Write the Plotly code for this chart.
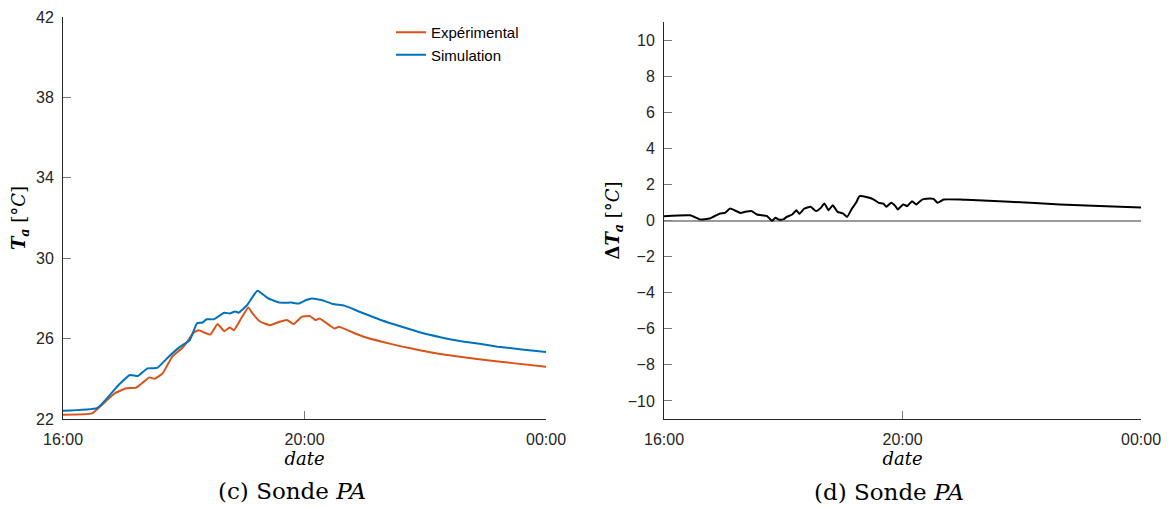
import plotly.graph_objects as go

# ---- data (hours after 16:00) ----
hours_sim = [0.00, 0.57, 0.92, 1.11, 1.24, 1.40, 1.56, 1.75, 1.94, 2.10, 2.22, 2.31, 2.38, 2.50,
             2.67, 2.76, 2.85, 2.91, 3.05, 3.22, 3.40, 3.59, 3.78, 3.91, 4.03, 4.12, 4.28, 4.47,
             4.66, 4.90, 5.30, 5.60, 5.94, 6.25, 6.57, 6.90, 7.20, 7.60, 8.00]
temp_sim = [22.41, 22.55, 23.69, 24.19, 24.14, 24.52, 24.54, 25.10, 25.60, 25.93, 26.76, 26.80, 26.96, 26.96,
            27.29, 27.25, 27.35, 27.29, 27.67, 28.38, 28.00, 27.79, 27.79, 27.75, 27.92, 28.00, 27.92, 27.72,
            27.64, 27.35, 26.89, 26.60, 26.29, 26.07, 25.88, 25.74, 25.60, 25.46, 25.33]

hours_exp = [0.00, 0.48, 0.61, 0.86, 1.05, 1.21, 1.34, 1.43, 1.52, 1.65, 1.81, 1.97, 2.06, 2.16,
             2.25, 2.35, 2.44, 2.56, 2.67, 2.76, 2.83, 2.95, 3.07, 3.14, 3.27, 3.43, 3.59, 3.71,
             3.82, 3.96, 4.09, 4.18, 4.25, 4.41, 4.50, 4.57, 4.75, 4.98, 5.30, 5.62, 5.93, 6.25,
             6.57, 6.89, 7.45, 8.00]
temp_exp = [22.21, 22.28, 22.61, 23.28, 23.53, 23.56, 23.86, 24.07, 24.00, 24.27, 25.10, 25.52, 25.85, 26.29,
            26.42, 26.29, 26.20, 26.73, 26.37, 26.55, 26.42, 27.00, 27.55, 27.25, 26.84, 26.67, 26.84, 26.92,
            26.73, 27.09, 27.12, 26.92, 27.00, 26.67, 26.50, 26.59, 26.37, 26.09, 25.83, 25.60, 25.41, 25.23,
            25.10, 24.97, 24.78, 24.60]

hours_diff = [0.00, 0.44, 0.60, 0.77, 0.94, 1.02, 1.11, 1.28, 1.36, 1.47, 1.56, 1.67, 1.73, 1.81,
              1.87, 1.92, 2.00, 2.06, 2.15, 2.22, 2.27, 2.35, 2.46, 2.55, 2.63, 2.69, 2.76, 2.83,
              2.91, 3.00, 3.07, 3.15, 3.22, 3.28, 3.41, 3.52, 3.60, 3.68, 3.73, 3.81, 3.88, 3.92,
              4.01, 4.08, 4.16, 4.23, 4.33, 4.47, 4.52, 4.59, 4.69, 4.97, 5.07, 5.80, 6.64, 7.30, 8.00]
diff_temp = [0.24, 0.29, 0.06, 0.11, 0.39, 0.42, 0.66, 0.42, 0.48, 0.52, 0.33, 0.28, 0.24, -0.02,
             0.15, 0.06, 0.06, 0.20, 0.33, 0.57, 0.37, 0.65, 0.76, 0.52, 0.70, 0.94, 0.57, 0.85,
             0.48, 0.39, 0.20, 0.65, 0.98, 1.35, 1.29, 1.16, 0.98, 0.94, 0.76, 0.98, 0.80, 0.61,
             0.89, 0.80, 1.07, 0.89, 1.16, 1.22, 1.20, 0.98, 1.16, 1.16, 1.15, 1.04, 0.89, 0.80, 0.72]

tick_hours = [0, 4, 8]
tick_labels = ["16:00", "20:00", "00:00"]
left_yticks = [22, 26, 30, 34, 38, 42]
right_yticks = [-10, -8, -6, -4, -2, 0, 2, 4, 6, 8, 10]

ORANGE = "#D95319"
BLUE = "#0072BD"
AXIS = "#262626"
TICKC = "#7a7a7a"
SANS = "Liberation Sans, Arial, sans-serif"
SERIF = "DejaVu Serif, serif"

# page offset (default body margin) and figure size
OFF = 8
W, H = 1170 - OFF, 508 - OFF


def fx(px):
    return (px - OFF) / W


def fy(py):
    return 1 - (py - OFF) / H


fig = go.Figure()
fig.add_trace(go.Scatter(x=hours_exp, y=temp_exp, mode="lines", name="Expérimental",
                         line=dict(color=ORANGE, width=2, shape="spline", smoothing=0.4),
                         xaxis="x", yaxis="y"))
fig.add_trace(go.Scatter(x=hours_sim, y=temp_sim, mode="lines", name="Simulation",
                         line=dict(color=BLUE, width=2, shape="spline", smoothing=0.4),
                         xaxis="x", yaxis="y"))
fig.add_trace(go.Scatter(x=hours_diff, y=diff_temp, mode="lines", showlegend=False,
                         line=dict(color="black", width=2, shape="spline", smoothing=0.4),
                         xaxis="x2", yaxis="y2"))

common_x = dict(range=[0, 8], tickvals=tick_hours, ticktext=tick_labels, automargin=False,
                showline=True, linecolor=AXIS, linewidth=1, ticks="inside", ticklen=8,
                tickcolor=TICKC, tickwidth=1, showgrid=False, zeroline=False,
                tickfont=dict(family=SANS, size=16, color=AXIS), ticklabelstandoff=6)
common_y = dict(showline=True, linecolor=AXIS, linewidth=1, ticks="inside", ticklen=8,
                tickcolor=TICKC, tickwidth=1, showgrid=False, automargin=False,
                tickfont=dict(family=SANS, size=16, color=AXIS), ticklabelstandoff=5)

fig.update_layout(
    width=W, height=H,
    margin=dict(l=0, r=0, t=0, b=0),
    paper_bgcolor="white", plot_bgcolor="white",
    showlegend=True,
    legend=dict(x=fx(391), y=fy(16), xanchor="left", yanchor="top",
                bgcolor="rgba(0,0,0,0)", font=dict(family=SANS, size=15, color="black"),
                tracegroupgap=0, itemwidth=30),
    xaxis=dict(domain=[fx(63), fx(546)], anchor="y",
               title=dict(text="<i>date</i>", font=dict(family=SERIF, size=18, color="black"), standoff=1),
               **common_x),
    yaxis=dict(domain=[fy(419), fy(17)], anchor="x", range=[22, 42], tickvals=left_yticks,
               zeroline=False,
               title=dict(text="<b><i>T</i></b><sub><b><i>a</i></b></sub> [°<i>C</i>]",
                          font=dict(family=SERIF, size=18, color="black"), standoff=6),
               **common_y),
    xaxis2=dict(domain=[fx(664), fx(1141)], anchor="y2",
                title=dict(text="<i>date</i>", font=dict(family=SERIF, size=18, color="black"), standoff=1),
                **common_x),
    yaxis2=dict(domain=[fy(419), fy(22)], anchor="x2", range=[-11, 11], tickvals=right_yticks,
                zeroline=True, zerolinecolor="#9a9a9a", zerolinewidth=1.5,
                title=dict(text="<b>Δ<i>T</i></b><sub><b><i>a</i></b></sub> [°<i>C</i>]",
                           font=dict(family=SERIF, size=18, color="black"), standoff=3),
                **common_y),
    annotations=[
        dict(text="(c) Sonde <i>PA</i>", x=fx(292), y=fy(491), xref="paper", yref="paper",
             xanchor="center", yanchor="middle", showarrow=False,
             font=dict(family=SERIF, size=23, color="black")),
        dict(text="(d) Sonde <i>PA</i>", x=fx(889), y=fy(492), xref="paper", yref="paper",
             xanchor="center", yanchor="middle", showarrow=False,
             font=dict(family=SERIF, size=23, color="black")),
    ],
)

fig.write_html("out.html")
